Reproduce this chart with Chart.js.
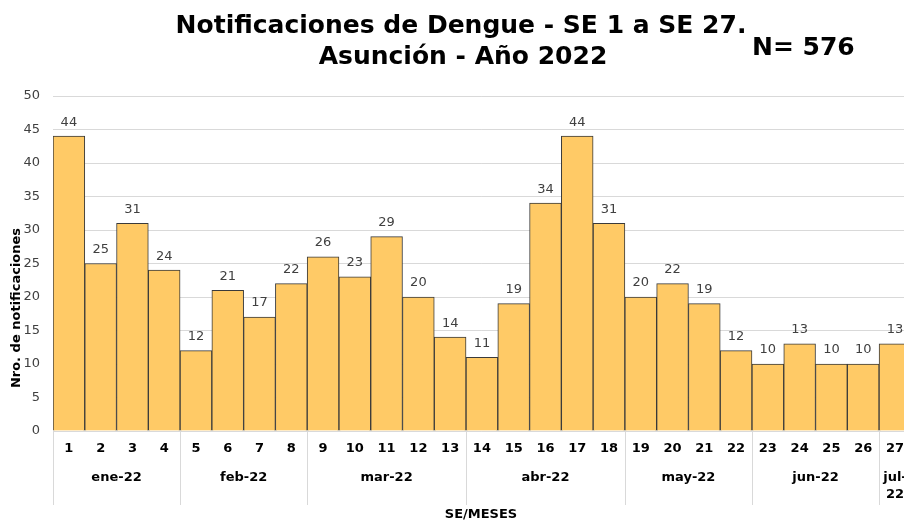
<!DOCTYPE html>
<html>
<head>
<meta charset="utf-8">
<script src="https://cdn.jsdelivr.net/npm/chart.js@4/dist/chart.umd.min.js"></script>
<style>
html,body{margin:0;padding:0;background:#fff;overflow:hidden;width:904px;height:521px;}
canvas{display:block;}
</style>
</head>
<body>
<canvas id="c" width="914" height="521" style="width:914px;height:521px;"></canvas>
<script>
const weeks = ['1','2','3','4','5','6','7','8','9','10','11','12','13','14','15','16','17','18','19','20','21','22','23','24','25','26','27'];
const cases = [44,25,31,24,12,21,17,22,26,23,29,20,14,11,19,34,44,31,20,22,19,12,10,13,10,10,13];
const months = ['ene-22','feb-22','mar-22','abr-22','may-22','jun-22','jul-22'];
const weeksPerMonth = [4,4,5,5,4,4,1];
const titleLines = ['Notificaciones de Dengue - SE 1 a SE 27.','Asunción - Año 2022'];
const totalLabel = 'N= 576';
const yTitle = 'Nro. de notificaciones';
const xTitle = 'SE/MESES';

const FONT = 'Verdana, "DejaVu Sans", sans-serif';

const extras = {
  id: 'extras',
  afterDatasetsDraw(chart) {
    const ctx = chart.ctx;
    const xs = chart.scales.x;
    const area = chart.chartArea;
    const meta = chart.getDatasetMeta(0);
    ctx.save();
    // value labels
    ctx.font = '13px ' + FONT;
    ctx.fillStyle = '#404040';
    ctx.textAlign = 'center';
    ctx.textBaseline = 'middle';
    meta.data.forEach((bar, i) => {
      ctx.fillText(String(cases[i]), bar.x, bar.y - 14);
    });
    // month separators and labels
    const half = (xs.getPixelForValue(1) - xs.getPixelForValue(0)) / 2;
    let start = 0;
    ctx.strokeStyle = '#d9d9d9';
    ctx.lineWidth = 1;
    for (let m = 0; m < months.length; m++) {
      const end = start + weeksPerMonth[m] - 1;
      const left = xs.getPixelForValue(start) - half;
      const right = xs.getPixelForValue(end) + half;
      ctx.beginPath();
      ctx.moveTo(Math.round(left) + 0.5, area.bottom);
      ctx.lineTo(Math.round(left) + 0.5, area.bottom + 74);
      ctx.stroke();
      ctx.font = 'bold 13px ' + FONT;
      ctx.fillStyle = '#000';
      const cx = (left + right) / 2;
      if (weeksPerMonth[m] === 1) {
        const parts = months[m].split('-');
        ctx.fillText(parts[0] + '-', cx, area.bottom + 47);
        ctx.fillText(parts[1], cx, area.bottom + 64);
      } else {
        ctx.fillText(months[m], cx, area.bottom + 47);
      }
      start = end + 1;
    }
    // axis titles
    ctx.font = 'bold 13px ' + FONT;
    ctx.fillStyle = '#000';
    ctx.fillText(xTitle, 481, 515);
    ctx.save();
    ctx.translate(17, 308);
    ctx.rotate(-Math.PI / 2);
    ctx.fillText(yTitle, 0, 0);
    ctx.restore();
    // chart title
    ctx.textBaseline = 'alphabetic';
    ctx.font = 'bold 25px ' + FONT;
    ctx.fillText(titleLines[0], 461, 33);
    ctx.fillText(titleLines[1], 463, 64);
    ctx.textAlign = 'left';
    ctx.fillText(totalLabel, 752, 55);
    ctx.restore();
  }
};

new Chart(document.getElementById('c'), {
  type: 'bar',
  data: {
    labels: weeks,
    datasets: [{
      data: cases,
      backgroundColor: '#FFCA66',
      borderColor: '#3a3a3a',
      borderWidth: 1,
      categoryPercentage: 1.0,
      barPercentage: 1.0
    }]
  },
  options: {
    responsive: false,
    animation: false,
    layout: { padding: { top: 96, left: 0, right: 0, bottom: 0 } },
    plugins: { legend: { display: false }, tooltip: { enabled: false }, title: { display: false } },
    scales: {
      x: {
        grid: { display: false, drawTicks: false },
        border: { display: false },
        ticks: { color: '#000', font: { family: FONT, size: 13, weight: 'bold' }, padding: 10, maxRotation: 0, autoSkip: false },
        afterFit(s) { s.height = 90; }
      },
      y: {
        min: 0, max: 50,
        ticks: { stepSize: 5, color: '#404040', font: { family: FONT, size: 13 }, padding: 13 },
        grid: { color: '#d9d9d9', drawTicks: false },
        border: { display: false },
        afterFit(s) { s.width = 53; }
      }
    }
  },
  plugins: [extras]
});
</script>
</body>
</html>
